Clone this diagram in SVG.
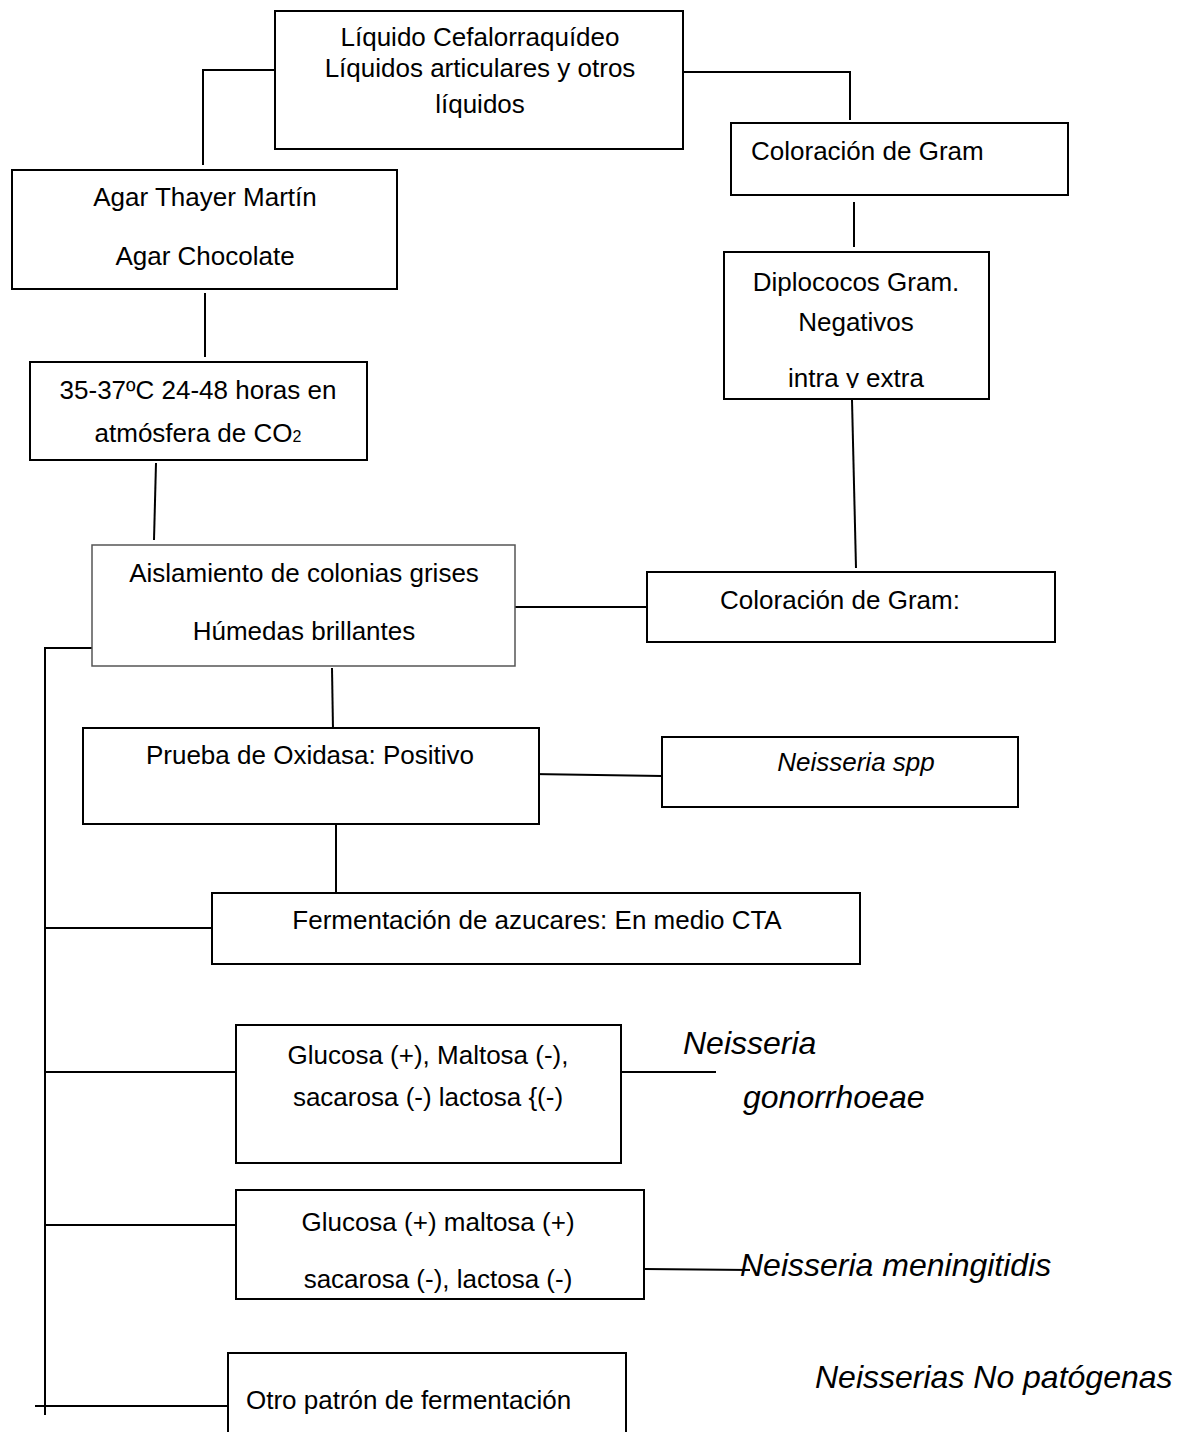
<svg xmlns="http://www.w3.org/2000/svg" width="1178" height="1432" viewBox="0 0 1178 1432">
<style>
.box{fill:#fff;stroke:#000;stroke-width:2}
.lbox{fill:#fff;stroke:#555;stroke-width:1.5}
.t{font-family:"Liberation Sans",Arial,sans-serif;font-size:26px;fill:#000}
.c{text-anchor:middle}
.i{font-style:italic}
.big{font-size:32px}
.conn line,.conn polyline{stroke:#000;stroke-width:2;fill:none}
</style>
<defs>
<clipPath id="clipDip"><rect x="724" y="252" width="265" height="136"/></clipPath>
</defs>
<rect width="1178" height="1432" fill="#fff"/>
<g class="conn">
<polyline points="275,70 203,70 203,165"/>
<polyline points="683,72 850,72 850,120"/>
<line x1="854" y1="202" x2="854" y2="247"/>
<line x1="852" y1="400" x2="856" y2="568"/>
<line x1="205" y1="293" x2="205" y2="357"/>
<line x1="156" y1="463" x2="154" y2="540"/>
<line x1="515" y1="607" x2="647" y2="607"/>
<polyline points="92,648 45,648 45,1415"/>
<line x1="332" y1="668" x2="333" y2="730"/>
<line x1="532" y1="774" x2="662" y2="776"/>
<line x1="336" y1="822" x2="336" y2="893"/>
<line x1="45" y1="928" x2="212" y2="928"/>
<line x1="45" y1="1072" x2="236" y2="1072"/>
<line x1="621" y1="1072" x2="716" y2="1072"/>
<line x1="45" y1="1225" x2="236" y2="1225"/>
<line x1="644" y1="1269" x2="750" y2="1270"/>
<line x1="35" y1="1406" x2="228" y2="1406"/>
</g>
<g id="n-liquido"><rect class="box" x="275" y="11" width="408" height="138"/>
<text class="t c" x="480" y="46">Líquido Cefalorraquídeo</text>
<text class="t c" x="480" y="77">Líquidos articulares y otros</text>
<text class="t c" x="480" y="113">líquidos</text></g>
<g id="n-gram1"><rect class="box" x="731" y="123" width="337" height="72"/>
<text class="t" x="751" y="160">Coloración de Gram</text></g>
<g id="n-diplo"><rect class="box" x="724" y="252" width="265" height="147"/>
<text class="t c" x="856" y="291">Diplococos Gram.</text>
<text class="t c" x="856" y="331">Negativos</text>
<text class="t c" x="856" y="387" clip-path="url(#clipDip)">intra y extra</text></g>
<g id="n-agar"><rect class="box" x="12" y="170" width="385" height="119"/>
<text class="t c" x="205" y="206">Agar Thayer Martín</text>
<text class="t c" x="205" y="265">Agar Chocolate</text></g>
<g id="n-temp"><rect class="box" x="30" y="362" width="337" height="98"/>
<text class="t c" x="198" y="399">35-37ºC 24-48 horas en</text>
<text class="t c" x="198" y="442">atmósfera de CO<tspan font-size="16">2</tspan></text></g>
<g id="n-aisl"><rect class="lbox" x="92" y="545" width="423" height="121"/>
<text class="t c" x="304" y="582">Aislamiento de colonias grises</text>
<text class="t c" x="304" y="640">Húmedas brillantes</text></g>
<g id="n-gram2"><rect class="box" x="647" y="572" width="408" height="70"/>
<text class="t c" x="840" y="609">Coloración de Gram:</text></g>
<g id="n-oxi"><rect class="box" x="83" y="728" width="456" height="96"/>
<text class="t c" x="310" y="764">Prueba de Oxidasa: Positivo</text></g>
<g id="n-spp"><rect class="box" x="662" y="737" width="356" height="70"/>
<text class="t c i" x="856" y="771">Neisseria spp</text></g>
<g id="n-ferm"><rect class="box" x="212" y="893" width="648" height="71"/>
<text class="t c" x="537" y="929">Fermentación de azucares: En medio CTA</text></g>
<g id="n-glu1"><rect class="box" x="236" y="1025" width="385" height="138"/>
<text class="t c" x="428" y="1064">Glucosa (+), Maltosa (-),</text>
<text class="t c" x="428" y="1106">sacarosa (-) lactosa {(-)</text></g>
<g id="n-gono"><text class="t i big" x="683" y="1054">Neisseria</text>
<text class="t i big" x="743" y="1108">gonorrhoeae</text></g>
<g id="n-glu2"><rect class="box" x="236" y="1190" width="408" height="109"/>
<text class="t c" x="438" y="1231">Glucosa (+) maltosa (+)</text>
<text class="t c" x="438" y="1288">sacarosa (-), lactosa (-)</text></g>
<g id="n-menin"><text class="t i big" x="740" y="1276">Neisseria meningitidis</text></g>
<g id="n-nopat"><text class="t i big" x="815" y="1388">Neisserias No patógenas</text></g>
<g id="n-otro"><rect class="box" x="228" y="1353" width="398" height="90"/>
<text class="t" x="246" y="1409">Otro patrón de fermentación</text></g>
</svg>
